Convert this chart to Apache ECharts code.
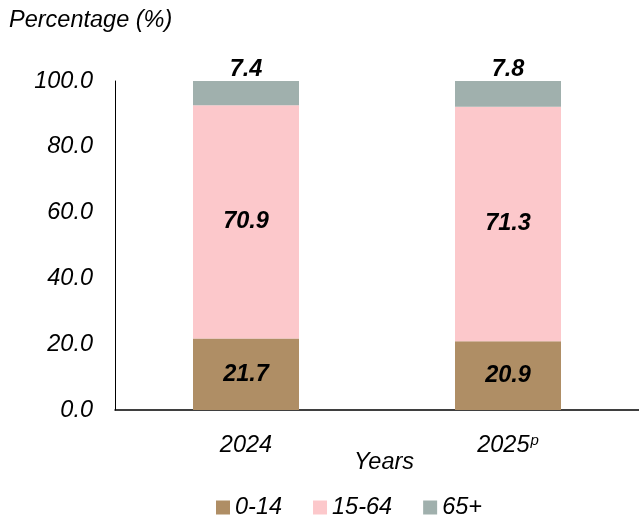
<!DOCTYPE html>
<html>
<head>
<meta charset="utf-8">
<script src="https://cdn.jsdelivr.net/npm/echarts@6/dist/echarts.min.js"></script>
<style>html,body{margin:0;padding:0;background:#fff}#c{width:639px;height:519px}</style>
</head>
<body>
<div id="c"></div>
<script>
var categories = ['2024', '2025p'];
var seriesNames = ['0-14', '15-64', '65+'];
var age0_14 = [21.7, 20.9];
var age15_64 = [70.9, 71.3];
var age65plus = [7.4, 7.8];
var yTicks = [0, 20, 40, 60, 80, 100];

var FONT = '"Liberation Sans", Arial, sans-serif';
var FS = 23.5;
var colors = ['#AF8E65', '#FCC8CB', '#A0B0AD'];
var chart = echarts.init(document.getElementById('c'), null, {renderer: 'canvas'});

function mkSeries(name, data, idx, top) {
  return {
    name: name,
    type: 'bar',
    stack: 'total',
    barWidth: 106,
    data: data,
    itemStyle: {color: colors[idx]},
    label: {
      show: true,
      position: top ? 'top' : 'inside',
      distance: 0,
      formatter: function (p) { return p.value.toFixed(1); },
      fontFamily: FONT,
      fontSize: FS,
      fontStyle: 'italic',
      fontWeight: 'bold',
      color: '#000'
    }
  };
}

chart.setOption({
  animation: false,
  title: {
    text: 'Percentage (%)',
    left: 4,
    top: 4,
    textStyle: {fontFamily: FONT, fontSize: FS, fontStyle: 'italic', fontWeight: 'normal', color: '#000'}
  },
  legend: {
    data: seriesNames,
    left: 211,
    top: 491,
    itemWidth: 14,
    itemHeight: 14,
    itemGap: 31,
    icon: 'rect',
    textStyle: {fontFamily: FONT, fontSize: FS, fontStyle: 'italic', color: '#000'}
  },
  grid: {left: 115, top: 81, width: 531, bottom: 109, containLabel: false},
  xAxis: {
    type: 'category',
    data: categories,
    name: 'Years',
    nameLocation: 'middle',
    nameGap: 41,
    nameMoveOverlap: false,
    nameTextStyle: {fontFamily: FONT, fontSize: FS, fontStyle: 'italic', color: '#000', padding: [0, 0, 0, 14]},
    axisLine: {lineStyle: {color: '#000', width: 1.5}},
    axisTick: {show: false},
    axisLabel: {
      margin: 23,
      formatter: function (v) {
        var m = v.match(/^(\d+)(\D*)$/);
        if (m && m[2]) return '{n|' + m[1] + '}{s|' + m[2] + '}';
        return '{n|' + v + '}';
      },
      rich: {
        n: {fontFamily: FONT, fontSize: FS, fontStyle: 'italic', color: '#000', lineHeight: 24},
        s: {fontFamily: FONT, fontSize: 15, fontStyle: 'italic', color: '#000', verticalAlign: 'top', lineHeight: 24, padding: [0, 0, 10, 1]}
      }
    }
  },
  yAxis: {
    type: 'value',
    min: 0,
    max: 100,
    interval: 20,
    axisLine: {show: true, lineStyle: {color: '#000', width: 1}},
    axisTick: {show: false},
    splitLine: {show: false},
    axisLabel: {
      margin: 22,
      fontFamily: FONT,
      fontSize: FS,
      fontStyle: 'italic',
      color: '#000',
      formatter: function (v) { return yTicks.indexOf(v) >= 0 ? v.toFixed(1) : ''; }
    }
  },
  series: [
    mkSeries(seriesNames[0], age0_14, 0, false),
    mkSeries(seriesNames[1], age15_64, 1, false),
    mkSeries(seriesNames[2], age65plus, 2, true)
  ]
});
</script>
</body>
</html>
